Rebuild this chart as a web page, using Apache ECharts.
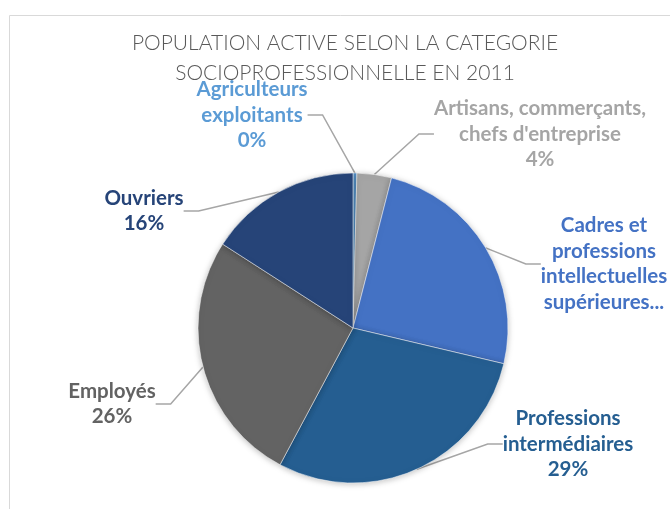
<!DOCTYPE html>
<html><head><meta charset="utf-8">
<script src="https://cdn.jsdelivr.net/npm/echarts@6/dist/echarts.min.js"></script>
<style>html,body{margin:0;padding:0;background:#fff}#c{width:670px;height:509px}</style>
</head><body><div id="c"></div>
<script>
const categories = ["Agriculteurs\nexploitants", "Artisans, commerçants,\nchefs d'entreprise", "Cadres et\nprofessions\nintellectuelles\nsupérieures...", "Professions\nintermédiaires", "Employés", "Ouvriers"];
const values = [0.4, 3.6, 24.7, 29.1, 26.3, 15.9];
const colors = ["#5B9BD5", "#A5A5A5", "#4472C4", "#255E91", "#636363", "#264478"];
const showPct = [true, true, false, true, true, true];
const labelPos = [[252,115],[540,134],[604,264],[568,444],[112,404],[144,211]];

const chart = echarts.init(document.getElementById('c'));
chart.setOption({
  animation: false,
  graphic: [{type:'rect', shape:{x:9.5,y:15.5,width:700,height:600}, style:{fill:'none', stroke:'#d9d9d9', lineWidth:1}}],
  title: {
    text: 'POPULATION ACTIVE SELON LA CATEGORIE\nSOCIOPROFESSIONNELLE EN 2011',
    left: 340, top: 23, textAlign: 'center',
    textStyle: {fontFamily:'Lato', fontWeight:300, fontSize:21, color:'#595959', lineHeight:30}
  },
  series: [{
    type: 'pie',
    center: [353, 328], radius: 155,
    startAngle: 90, clockwise: true,
    percentPrecision: 0,
    itemStyle: {borderColor:'#fff', borderWidth:0.5, shadowBlur:6, shadowColor:'rgba(0,0,0,0.25)', shadowOffsetY:1},
    label: {
      fontFamily:'Lato', fontWeight:'bold', fontSize:20.5, lineHeight:25.5, align:'center', overflow:'none'
    },
    labelLine: {lineStyle:{color:'#a6a6a6', width:1.5}, length:15, length2:15},
    labelLayout: function(p){
      const pos = labelPos[p.dataIndex];
      return {x: pos[0], y: pos[1], align:'center', verticalAlign:'middle'};
    },
    data: categories.map((c,i)=>({
      name: c, value: values[i],
      itemStyle:{color: colors[i]},
      label:{color: colors[i], formatter: showPct[i] ? '{b}\n{d}%' : '{b}'}
    }))
  }]
});
</script></body></html>
